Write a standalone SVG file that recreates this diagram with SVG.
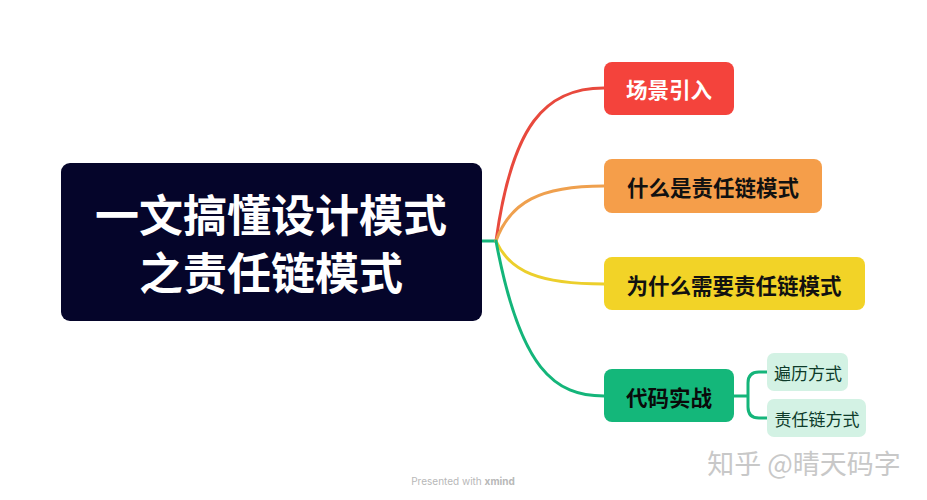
<svg xmlns="http://www.w3.org/2000/svg" width="927" height="500" viewBox="0 0 927 500">
<style>
.t{font-family:"Noto Sans CJK SC","Noto Sans",sans-serif;font-weight:bold;text-anchor:middle;dominant-baseline:central}
.s{font-family:"Noto Sans CJK SC","Noto Sans",sans-serif;text-anchor:middle;dominant-baseline:central;font-size:17px;fill:#0d3b2a}
.c{fill:none;stroke-width:3;stroke-linecap:round}
</style>
<rect width="927" height="500" fill="#ffffff"/>
<g id="connectors">
<path class="c" d="M482 241 H496" stroke="#14b57a"/>
<path class="c" d="M496 241 C512 125, 545 88, 604 88" stroke="#e8493d"/>
<path class="c" d="M496 241 C510 202, 540 186, 604 186" stroke="#efa04e"/>
<path class="c" d="M496 241 C510 272, 540 284, 604 284" stroke="#eccf2c"/>
<path class="c" d="M496 241 C520 370, 555 396, 604 396" stroke="#14b57a"/>
<path class="c" d="M734 396 H748 M767 372 H759 Q748 372 748 383 V407 Q748 418 759 418 H767" stroke="#14b57a"/>
</g>
<g id="root">
<rect x="61" y="163" width="421" height="158" rx="9" fill="#05052a"/>
<text class="t" x="271" y="213" font-size="44" fill="#ffffff">一文搞懂设计模式</text>
<text class="t" x="271" y="271" font-size="44" fill="#ffffff">之责任链模式</text>
</g>
<g id="n1">
<rect x="604" y="62" width="130" height="53" rx="8" fill="#f4433c"/>
<text class="t" x="669" y="88" font-size="21.5" fill="#ffffff">场景引入</text>
</g>
<g id="n2">
<rect x="604" y="159" width="218" height="54" rx="8" fill="#f59e4a"/>
<text class="t" x="713" y="186" font-size="21.5" fill="#111111">什么是责任链模式</text>
</g>
<g id="n3">
<rect x="604" y="257" width="261" height="53" rx="8" fill="#f2d327"/>
<text class="t" x="734" y="284" font-size="21.5" fill="#111111">为什么需要责任链模式</text>
</g>
<g id="n4">
<rect x="604" y="369" width="130" height="53" rx="8" fill="#14b77a"/>
<text class="t" x="669" y="396" font-size="21.5" fill="#0a0a0a">代码实战</text>
</g>
<g id="n5">
<rect x="767" y="353" width="81" height="38" rx="7" fill="#d3f2e4"/>
<text class="s" x="808" y="372">遍历方式</text>
</g>
<g id="n6">
<rect x="767" y="399" width="99" height="38" rx="7" fill="#d3f2e4"/>
<text class="s" x="817" y="418">责任链方式</text>
</g>
<text x="804" y="462" font-family="Noto Sans CJK SC,sans-serif" font-size="27" fill="#c8c8c8" text-anchor="middle" dominant-baseline="central">知乎 @晴天码字</text>
<text x="463" y="481" font-family="Inter,Liberation Sans,sans-serif" font-size="10" fill="#b8b8b8" text-anchor="middle" dominant-baseline="central">Presented with <tspan font-weight="bold">xmind</tspan></text>
</svg>
